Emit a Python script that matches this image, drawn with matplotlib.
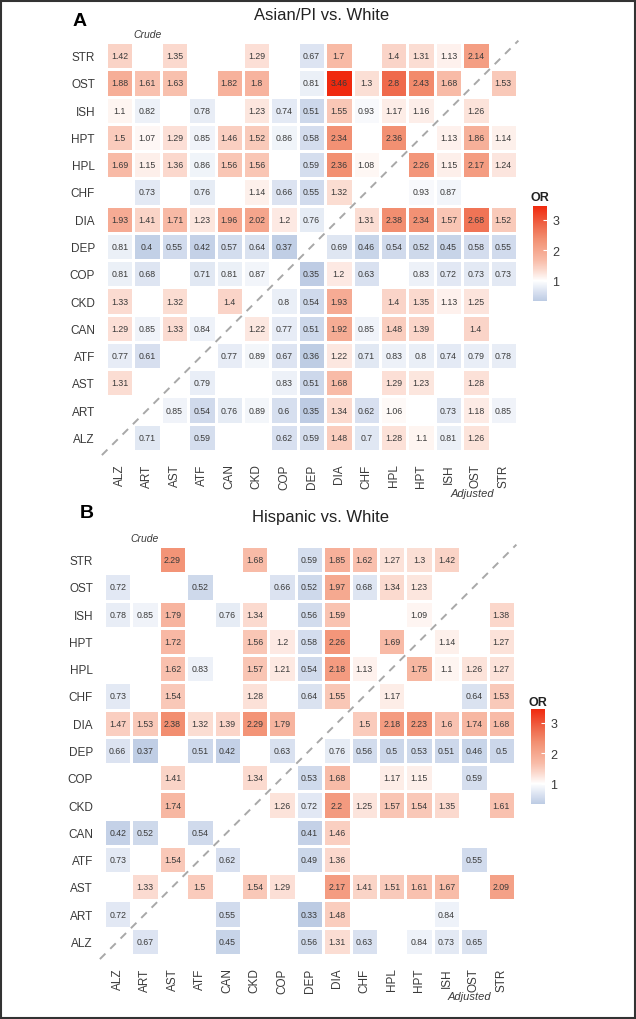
import numpy as np
import matplotlib
matplotlib.use("Agg")
import matplotlib.pyplot as plt
from matplotlib.colors import ListedColormap, Normalize, to_rgb
from matplotlib.patches import Rectangle
from matplotlib.cm import ScalarMappable

plt.rcParams["font.family"] = ["Liberation Sans Narrow", "Liberation Sans", "DejaVu Sans"]

cols = ["ALZ", "ART", "AST", "ATF", "CAN", "CKD", "COP", "DEP", "DIA",
        "CHF", "HPL", "HPT", "ISH", "OST", "STR"]
rows_top_to_bottom = cols[::-1]
N = None

# Panel A: Asian/PI vs. White (rows listed top to bottom: STR ... ALZ)
asian = [
    [1.42, N, 1.35, N, N, 1.29, N, 0.67, 1.7, N, 1.4, 1.31, 1.13, 2.14, N],      # STR
    [1.88, 1.61, 1.63, N, 1.82, 1.8, N, 0.81, 3.46, 1.3, 2.8, 2.43, 1.68, N, 1.53],  # OST
    [1.1, 0.82, N, 0.78, N, 1.23, 0.74, 0.51, 1.55, 0.93, 1.17, 1.16, N, 1.26, N],   # ISH
    [1.5, 1.07, 1.29, 0.85, 1.46, 1.52, 0.86, 0.58, 2.34, N, 2.36, N, 1.13, 1.86, 1.14],  # HPT
    [1.69, 1.15, 1.36, 0.86, 1.56, 1.56, N, 0.59, 2.36, 1.08, N, 2.26, 1.15, 2.17, 1.24],  # HPL
    [N, 0.73, N, 0.76, N, 1.14, 0.66, 0.55, 1.32, N, N, 0.93, 0.87, N, N],         # CHF
    [1.93, 1.41, 1.71, 1.23, 1.96, 2.02, 1.2, 0.76, N, 1.31, 2.38, 2.34, 1.57, 2.68, 1.52],  # DIA
    [0.81, 0.4, 0.55, 0.42, 0.57, 0.64, 0.37, N, 0.69, 0.46, 0.54, 0.52, 0.45, 0.58, 0.55],  # DEP
    [0.81, 0.68, N, 0.71, 0.81, 0.87, N, 0.35, 1.2, 0.63, N, 0.83, 0.72, 0.73, 0.73],  # COP
    [1.33, N, 1.32, N, 1.4, N, 0.8, 0.54, 1.93, N, 1.4, 1.35, 1.13, 1.25, N],      # CKD
    [1.29, 0.85, 1.33, 0.84, N, 1.22, 0.77, 0.51, 1.92, 0.85, 1.48, 1.39, N, 1.4, N],  # CAN
    [0.77, 0.61, N, N, 0.77, 0.89, 0.67, 0.36, 1.22, 0.71, 0.83, 0.8, 0.74, 0.79, 0.78],  # ATF
    [1.31, N, N, 0.79, N, N, 0.83, 0.51, 1.68, N, 1.29, 1.23, N, 1.28, N],         # AST
    [N, N, 0.85, 0.54, 0.76, 0.89, 0.6, 0.35, 1.34, 0.62, 1.06, N, 0.73, 1.18, 0.85],  # ART
    [N, 0.71, N, 0.59, N, N, 0.62, 0.59, 1.48, 0.7, 1.28, 1.1, 0.81, 1.26, N],     # ALZ
]

# Panel B: Hispanic vs. White
hispanic = [
    [N, N, 2.29, N, N, 1.68, N, 0.59, 1.85, 1.62, 1.27, 1.3, 1.42, N, N],          # STR
    [0.72, N, N, 0.52, N, N, 0.66, 0.52, 1.97, 0.68, 1.34, 1.23, N, N, N],         # OST
    [0.78, 0.85, 1.79, N, 0.76, 1.34, N, 0.56, 1.59, N, N, 1.09, N, N, 1.38],      # ISH
    [N, N, 1.72, N, N, 1.56, 1.2, 0.58, 2.26, N, 1.69, N, 1.14, N, 1.27],          # HPT
    [N, N, 1.62, 0.83, N, 1.57, 1.21, 0.54, 2.18, 1.13, N, 1.75, 1.1, 1.26, 1.27], # HPL
    [0.73, N, 1.54, N, N, 1.28, N, 0.64, 1.55, N, 1.17, N, N, 0.64, 1.53],         # CHF
    [1.47, 1.53, 2.38, 1.32, 1.39, 2.29, 1.79, N, N, 1.5, 2.18, 2.23, 1.6, 1.74, 1.68],  # DIA
    [0.66, 0.37, N, 0.51, 0.42, N, 0.63, N, 0.76, 0.56, 0.5, 0.53, 0.51, 0.46, 0.5],  # DEP
    [N, N, 1.41, N, N, 1.34, N, 0.53, 1.68, N, 1.17, 1.15, N, 0.59, N],            # COP
    [N, N, 1.74, N, N, N, 1.26, 0.72, 2.2, 1.25, 1.57, 1.54, 1.35, N, 1.61],       # CKD
    [0.42, 0.52, N, 0.54, N, N, N, 0.41, 1.46, N, N, N, N, N, N],                  # CAN
    [0.73, N, 1.54, N, 0.62, N, N, 0.49, 1.36, N, N, N, N, 0.55, N],               # ATF
    [N, 1.33, N, 1.5, N, 1.54, 1.29, N, 2.17, 1.41, 1.51, 1.61, 1.67, N, 2.09],    # AST
    [0.72, N, N, N, 0.55, N, N, 0.33, 1.48, N, N, N, 0.84, N, N],                  # ART
    [N, 0.67, N, N, 0.45, N, N, 0.56, 1.31, 0.63, N, 0.84, 0.73, 0.65, N],         # ALZ
]

titles = ["Asian/PI vs. White", "Hispanic vs. White"]
panel_letters = ["A", "B"]
cbar_ticks = [1, 2, 3]
or_min, or_max = 0.33, 3.46

# colour anchors (value -> colour) for the diverging OR scale
anchor_vals = [0.33, 0.6, 1.0, 1.34, 1.68, 2.36, 2.8, 3.46]
anchor_cols = ["#bccbe3", "#d6dfef", "#ffffff", "#fbdacf", "#f8bba7",
               "#f29072", "#ef6a4c", "#f0290e"]

W, H = 636, 1020
DPI = 100
fig = plt.figure(figsize=(W / DPI, H / DPI), dpi=DPI)
fig.patch.set_facecolor("white")

vals = np.linspace(or_min, or_max, 512)
rgb = np.array([to_rgb(c) for c in anchor_cols])
cm_arr = np.stack([np.interp(vals, anchor_vals, rgb[:, k]) for k in range(3)], axis=1)
cmap = ListedColormap(cm_arr)
cmap.set_bad((1, 1, 1, 0))
norm = Normalize(or_min, or_max)


def fx(px):
    return px / W


def fy(py):
    return 1 - py / H


panels = [
    dict(data=asian, left=106, right=517, top=43, bottom=452,
         letter=(80, 22), title=(322, 16), crude=(148, 35), adj=(472, 494),
         cbar=(533, 207, 302), orlab=(540, 198)),
    dict(data=hispanic, left=104, right=515, top=547, bottom=956,
         letter=(87, 513), title=(320, 518), crude=(145, 539), adj=(469, 997),
         cbar=(531, 710, 805), orlab=(538, 703)),
]

txtc = "#3a3a3a"
for k, p in enumerate(panels):
    ax = fig.add_axes([fx(p["left"]), fy(p["bottom"]),
                       (p["right"] - p["left"]) / W, (p["bottom"] - p["top"]) / H])
    Z = np.array([[np.nan if v is None else v for v in r] for r in p["data"]], float)[::-1]
    Zm = np.ma.masked_invalid(Z)
    ax.pcolormesh(np.arange(16), np.arange(16), Zm, cmap=cmap, norm=norm,
                  edgecolors="white", linewidth=0.8)
    for r in range(15):
        for c in range(15):
            v = Z[r, c]
            if not np.isnan(v):
                ax.text(c + 0.5, r + 0.5, f"{v:g}", ha="center", va="center",
                        fontsize=6.3, color=txtc)
    ax.plot([-0.15, 15.05], [-0.15, 15.05], ls=(0, (4, 3.5)), color="#a8a8a8",
            lw=1.4, clip_on=False)
    ax.set_xlim(0, 15)
    ax.set_ylim(0, 15)
    ax.set_xticks(np.arange(15) + 0.5)
    ax.set_xticklabels(cols, rotation=90, fontsize=8.5, color=txtc)
    ax.set_yticks(np.arange(15) + 0.5)
    ax.set_yticklabels(cols, fontsize=8.5, color=txtc)
    ax.tick_params(axis="y", length=0, pad=8)
    ax.tick_params(axis="x", length=0, pad=9)
    for s in ax.spines.values():
        s.set_visible(False)
    ax.set_facecolor("white")

    fig.text(fx(p["letter"][0]), fy(p["letter"][1]), panel_letters[k],
             fontsize=14, fontweight="bold", ha="center", va="center", color="black",
             family=["Liberation Sans", "DejaVu Sans"])
    fig.text(fx(p["title"][0]), fy(p["title"][1]), titles[k],
             fontsize=12, ha="center", va="center", color="#222222")
    fig.text(fx(p["crude"][0]), fy(p["crude"][1]), "Crude", fontsize=7.5,
             style="italic", ha="center", va="center", color=txtc)
    fig.text(fx(p["adj"][0]), fy(p["adj"][1]), "Adjusted", fontsize=8,
             style="italic", ha="center", va="center", color=txtc)

    cx, ct, cb_ = p["cbar"]
    cax = fig.add_axes([fx(cx), fy(cb_), 14 / W, (cb_ - ct) / H])
    sm = ScalarMappable(norm=norm, cmap=cmap)
    cb = fig.colorbar(sm, cax=cax, ticks=cbar_ticks)
    cb.outline.set_visible(False)
    cb.ax.tick_params(direction="in", color="white", length=3, width=0.8,
                      labelsize=9, labelcolor=txtc, pad=4)
    fig.text(fx(p["orlab"][0]), fy(p["orlab"][1]), "OR", fontsize=9,
             fontweight="bold", ha="center", va="center", color="#222222")

fig.add_artist(Rectangle((0.001, 0.001), 0.997, 0.997, transform=fig.transFigure,
                         fill=False, edgecolor="#333333", lw=1.5))

fig.savefig("out.png", dpi=DPI, facecolor="white")
